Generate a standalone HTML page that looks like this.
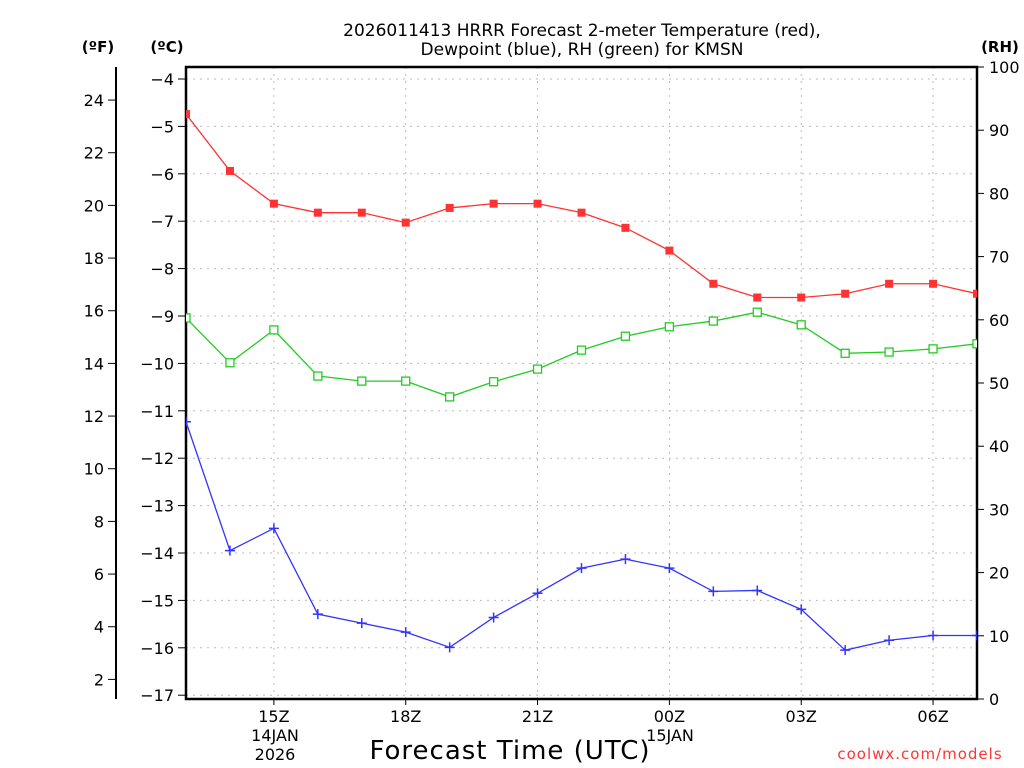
<!DOCTYPE html>
<html><head><meta charset="utf-8"><style>
html,body{margin:0;padding:0;background:#fff;}
svg{display:block;font-family:"DejaVu Sans","Liberation Sans",sans-serif;}
</style></head><body>
<svg id="chart" width="1024" height="768" viewBox="0 0 1024 768" xmlns="http://www.w3.org/2000/svg">
<text x="582" y="36" font-size="17" text-anchor="middle" fill="#000">2026011413 HRRR Forecast 2-meter Temperature (red),</text>
<text x="582" y="55" font-size="17" text-anchor="middle" fill="#000">Dewpoint (blue), RH (green) for KMSN</text>
<text x="98" y="52" font-size="15" font-weight="bold" text-anchor="middle">(ºF)</text>
<text x="167" y="52" font-size="15" font-weight="bold" text-anchor="middle">(ºC)</text>
<text x="1000" y="52" font-size="15" font-weight="bold" text-anchor="middle">(RH)</text>
<g id="grid"></g>
<g id="axes"></g>
<g id="series"></g>
<text x="510" y="759" font-size="26" text-anchor="middle" letter-spacing="1">Forecast Time (UTC)</text>
<text x="920" y="759" font-size="15" text-anchor="middle" fill="#ff3333" letter-spacing="1">coolwx.com/models</text>
</svg>
<script>
const hours = [13,14,15,16,17,18,19,20,21,22,23,24,25,26,27,28,29,30,31];
const tempC = [-4.74,-5.94,-6.63,-6.82,-6.82,-7.03,-6.72,-6.63,-6.63,-6.82,-7.14,-7.62,-8.32,-8.61,-8.61,-8.53,-8.32,-8.32,-8.53];
const dewC = [-11.23,-13.95,-13.48,-15.29,-15.48,-15.67,-15.99,-15.36,-14.85,-14.32,-14.13,-14.32,-14.81,-14.79,-15.19,-16.05,-15.84,-15.74,-15.74];
const rh = [60.3,53.2,58.4,51.1,50.3,50.3,47.8,50.2,52.2,55.2,57.4,58.9,59.8,61.2,59.2,54.7,54.9,55.4,56.2];
const celsiusTicks = [-4,-5,-6,-7,-8,-9,-10,-11,-12,-13,-14,-15,-16,-17];
const fahrenheitTicks = [2,4,6,8,10,12,14,16,18,20,22,24];
const rhTicks = [0,10,20,30,40,50,60,70,80,90,100];
const xTickHours = [15,18,21,24,27,30];
const xTickLabels = ["15Z","18Z","21Z","00Z","03Z","06Z"];

const L=186,R=977,T=67,B=699;
const xS=h=>L+(h-13)*(R-L)/18;
const cS=c=>79+(-4-c)*47.4;
const fS=f=>cS((f-32)/1.8);
const rS=v=>B-v*(B-T)/100;
const NS="http://www.w3.org/2000/svg";
function mk(tag,at,parent){const e=document.createElementNS(NS,tag);for(const k in at)e.setAttribute(k,at[k]);parent.appendChild(e);return e;}
const grid=document.getElementById('grid'),axes=document.getElementById('axes'),ser=document.getElementById('series');

celsiusTicks.forEach(c=>{const y=cS(c);
 const g=mk('line',{x1:L,x2:R,y1:y,y2:y,stroke:'#bbb','stroke-dasharray':'2,5'},grid);
 
 
 mk('line',{x1:L-8,x2:L,y1:y,y2:y,stroke:'#000'},axes);
 const t=mk('text',{x:L-12,y:y+6,'font-size':16,'text-anchor':'end'},axes);t.textContent=String(c).replace('-','\u2212');
 
 
});
xTickHours.forEach((h,i)=>{const x=xS(h);
 const g=mk('line',{x1:x,x2:x,y1:T,y2:B,stroke:'#bbb','stroke-dasharray':'2,5'},grid);
 
 
 mk('line',{x1:x,x2:x,y1:B,y2:B+6,stroke:'#000'},axes);
 const t=mk('text',{x:x,y:722,'font-size':16,'text-anchor':'middle'},axes);t.textContent=xTickLabels[i];
 
 
});
[["14JAN",275,741],["2026",275,760],["15JAN",670,741]].forEach(d=>{const t=mk('text',{x:d[1],y:d[2],'font-size':16,'text-anchor':'middle'},axes);t.textContent=d[0];
 
 });
fahrenheitTicks.forEach(f=>{const y=fS(f);
 mk('line',{x1:108,x2:116,y1:y,y2:y,stroke:'#000'},axes);
 const t=mk('text',{x:104,y:y+6,'font-size':16,'text-anchor':'end'},axes);t.textContent=f;
 
 
});
mk('line',{x1:116,x2:116,y1:T,y2:B,stroke:'#000','stroke-width':2},axes);
rhTicks.forEach(v=>{const y=rS(v);
 mk('line',{x1:R,x2:R+7,y1:y,y2:y,stroke:'#000'},axes);
 const t=mk('text',{x:989,y:y+6,'font-size':16,'text-anchor':'start'},axes);t.textContent=v;
 
 
});
const frame=mk('rect',{x:L,y:T,width:R-L,height:B-T,fill:'none',stroke:'#000','stroke-width':2.5},axes);



const cp=document.createElementNS(NS,'clipPath');cp.id='pc';mk('rect',{x:L,y:T,width:R-L,height:B-T},cp);ser.appendChild(cp);
ser.setAttribute('clip-path','url(#pc)');
function line(vals,sc,col,name){
 const p=mk('polyline',{points:vals.map((v,i)=>xS(hours[i])+','+sc(v)).join(' '),fill:'none',stroke:col,'stroke-width':1.3},ser);
 
 
}
line(tempC,cS,'#ff3333','temperature');
line(dewC,cS,'#3333ff','dewpoint');
line(rh,rS,'#22cc22','rh');
tempC.forEach((v,i)=>{const m=mk('rect',{x:xS(hours[i])-4,y:cS(v)-4,width:8,height:8,fill:'#ff3333'},ser);
 
 });
rh.forEach((v,i)=>{const m=mk('rect',{x:xS(hours[i])-4,y:rS(v)-4,width:8,height:8,fill:'#fff',stroke:'#22cc22','stroke-width':1.3},ser);
 
 });
dewC.forEach((v,i)=>{const x=xS(hours[i]),y=cS(v);
 const m=mk('path',{d:`M${x-5},${y}H${x+5}M${x},${y-5}V${y+5}`,stroke:'#3333ff','stroke-width':1.5},ser);
 
 });
</script>
</body></html>
